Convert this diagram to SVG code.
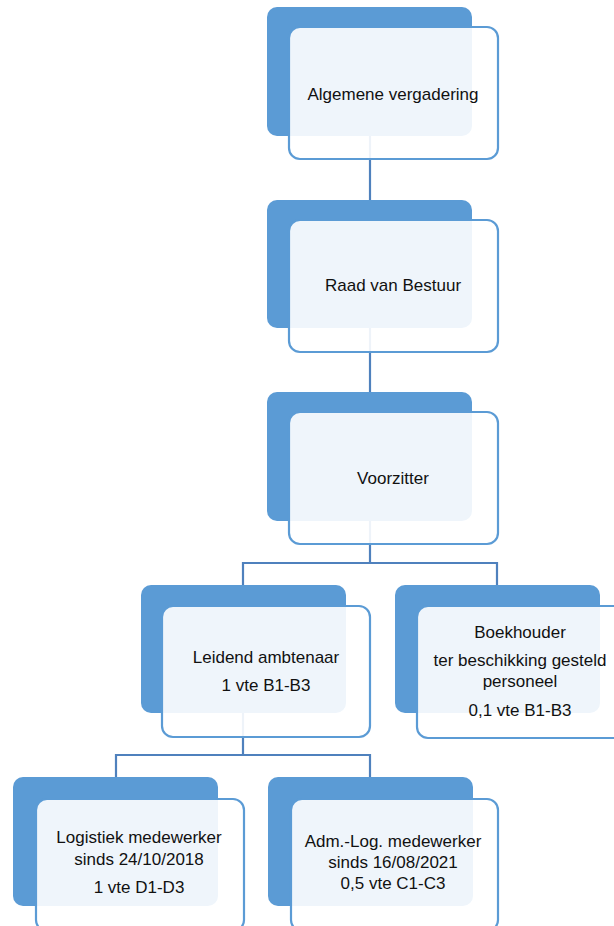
<svg xmlns="http://www.w3.org/2000/svg" width="614" height="926" viewBox="0 0 614 926">
<style>
.back{fill:#5B9BD5;}
.front{fill:#FFFFFF;fill-opacity:0.9;stroke:#5B9BD5;stroke-width:2.2;}
.conn{fill:none;stroke:#4F81BD;stroke-width:2.2;}
text{font-family:"Liberation Sans",Arial,sans-serif;font-size:17px;fill:#111111;text-anchor:middle;}
</style>
<rect width="614" height="926" fill="#FFFFFF"/>
<g id="connectors">
<path class="conn" d="M370,136 V200"/>
<path class="conn" d="M370,328 V392"/>
<path class="conn" d="M370,521 V563 M243,585 V563 H497 V585"/>
<path class="conn" d="M243,713 V755 M116,777 V755 H370 V777"/>
</g>
<g id="n1" transform="translate(267,7)">
<rect class="back" x="0" y="0" width="205" height="129" rx="10"/>
<rect class="front" x="22" y="20" width="209" height="132" rx="11"/>
<text x="126" y="93">Algemene vergadering</text>
</g>
<g id="n2" transform="translate(267,200)">
<rect class="back" x="0" y="0" width="205" height="128" rx="10"/>
<rect class="front" x="22" y="20" width="209" height="132" rx="11"/>
<text x="126" y="91">Raad van Bestuur</text>
</g>
<g id="n3" transform="translate(267,392)">
<rect class="back" x="0" y="0" width="205" height="129" rx="10"/>
<rect class="front" x="22" y="20" width="209" height="132" rx="11"/>
<text x="126" y="92">Voorzitter</text>
</g>
<g id="n4a" transform="translate(141,585)">
<rect class="back" x="0" y="0" width="205" height="128" rx="10"/>
<rect class="front" x="21" y="21" width="208" height="131" rx="11"/>
<text x="125" y="78">Leidend ambtenaar</text>
<text x="125" y="106">1 vte B1-B3</text>
</g>
<g id="n4b" transform="translate(395,585)">
<rect class="back" x="0" y="0" width="205" height="128" rx="10"/>
<rect class="front" x="22" y="21" width="209" height="132" rx="11"/>
<text x="125" y="53">Boekhouder</text>
<text x="125" y="81">ter beschikking gesteld</text>
<text x="125" y="102">personeel</text>
<text x="125" y="131">0,1 vte B1-B3</text>
</g>
<g id="n5a" transform="translate(13,777)">
<rect class="back" x="0" y="0" width="205" height="129" rx="10"/>
<rect class="front" x="23" y="22" width="208" height="132" rx="11"/>
<text x="126" y="66">Logistiek medewerker</text>
<text x="126" y="88">sinds 24/10/2018</text>
<text x="126" y="116">1 vte D1-D3</text>
</g>
<g id="n5b" transform="translate(268,777)">
<rect class="back" x="0" y="0" width="205" height="129" rx="10"/>
<rect class="front" x="23" y="22" width="207" height="132" rx="11"/>
<text x="125" y="70">Adm.-Log. medewerker</text>
<text x="125" y="91">sinds 16/08/2021</text>
<text x="125" y="112">0,5 vte C1-C3</text>
</g>
</svg>
